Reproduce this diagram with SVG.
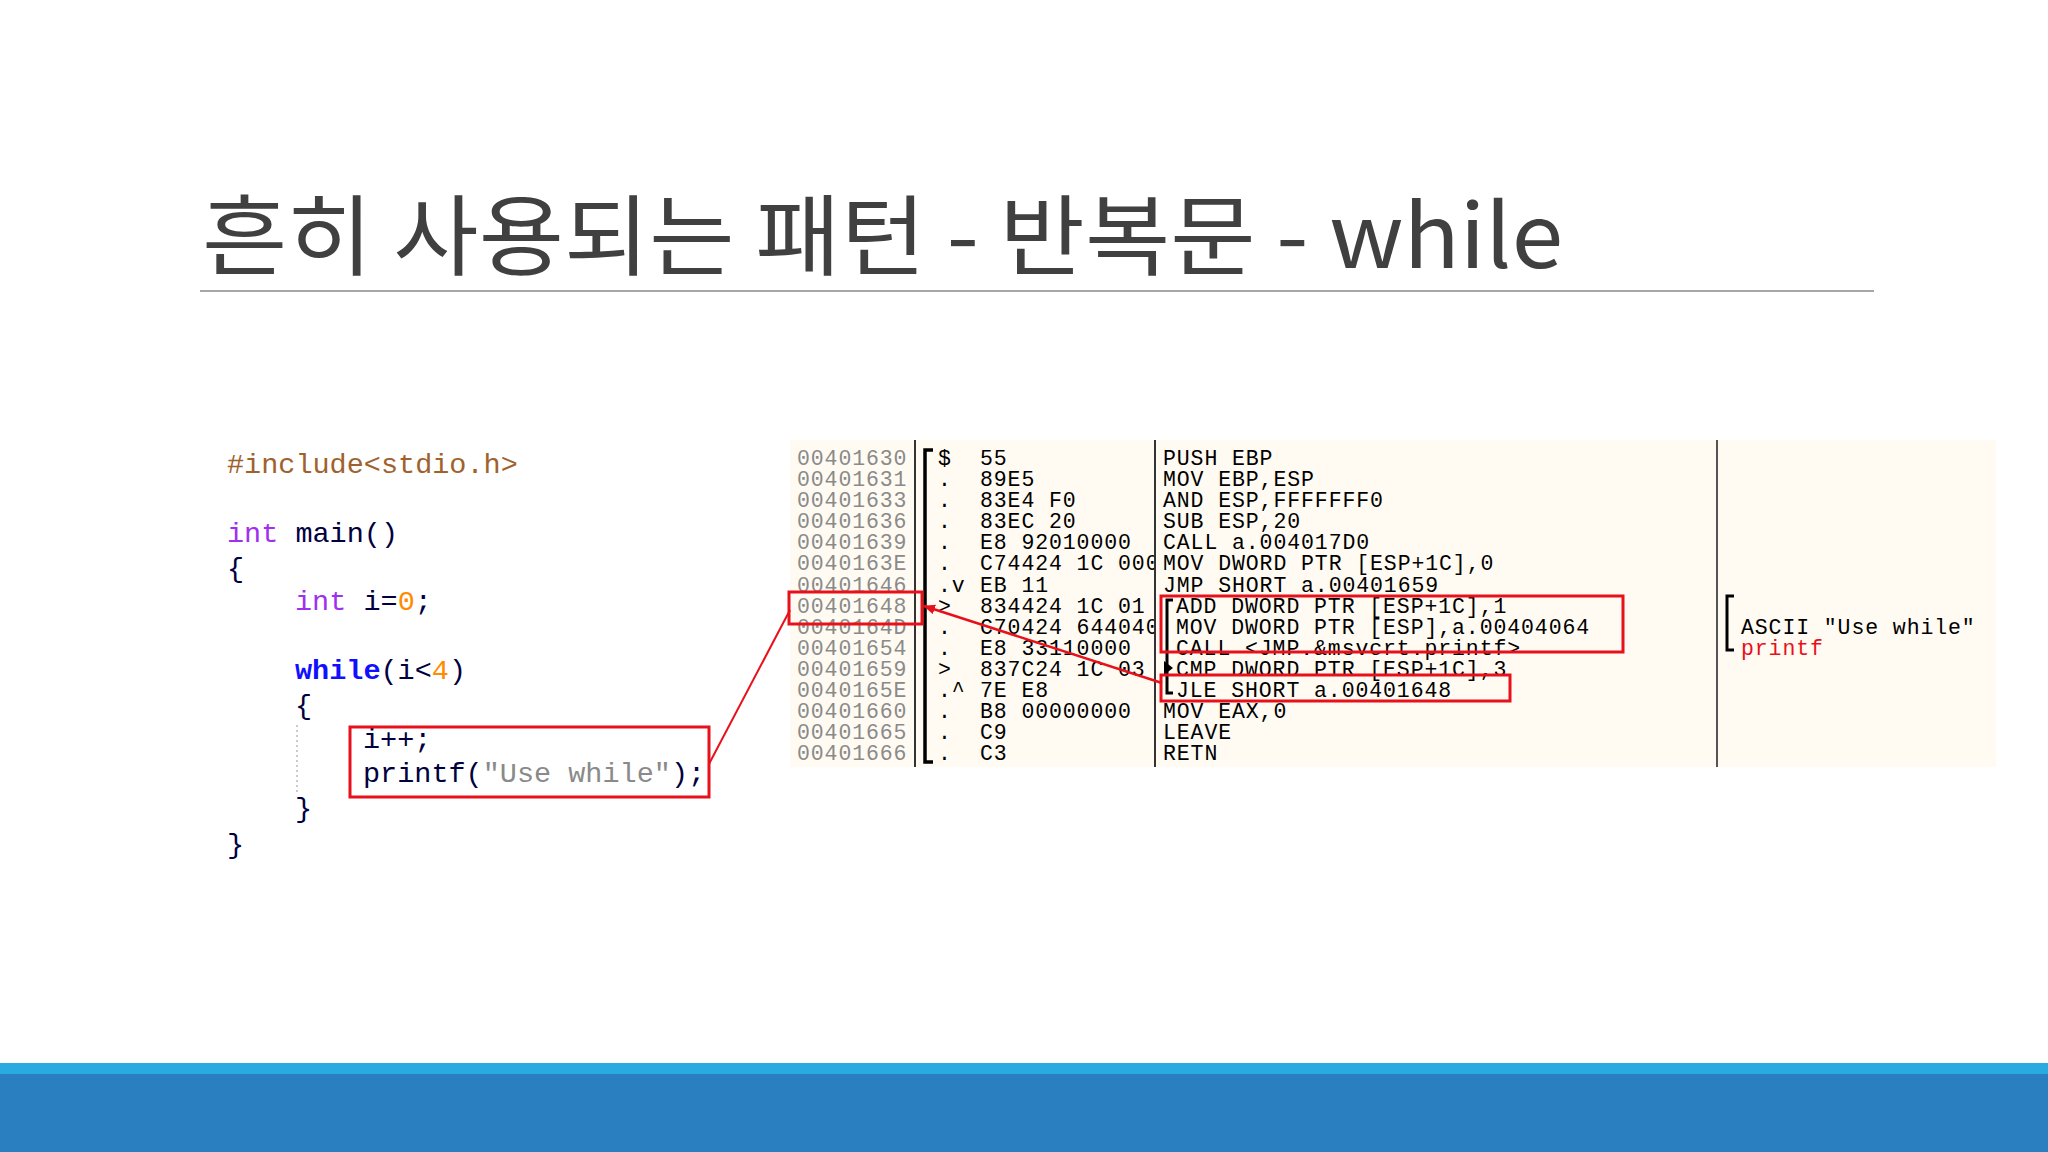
<svg xmlns="http://www.w3.org/2000/svg" width="2048" height="1152" viewBox="0 0 2048 1152">
<defs>
<style>
.c{font-family:"Liberation Mono","DejaVu Sans Mono",monospace;font-size:28.5px;fill:#000040}
.a{font-family:"Liberation Mono","DejaVu Sans Mono",monospace;font-size:21.5px;letter-spacing:0.9px;fill:#000}
.g{fill:#8a8a8a}
.rb{fill:none;stroke:#e8101a;stroke-width:3}
</style>
<marker id="ah" markerWidth="12" markerHeight="10" refX="11" refY="5" orient="auto" markerUnits="userSpaceOnUse"><path d="M0,0 L12,5 L0,10 Z" fill="#e8101a"/></marker>
<clipPath id="hexclip"><rect x="970" y="440" width="184" height="330"/></clipPath>
</defs>
<rect width="2048" height="1152" fill="#fff"/>
<g id="title">
<text x="202" y="268" font-family="'Noto Sans CJK KR','Noto Sans',sans-serif" font-size="88" fill="#404040" textLength="1361" lengthAdjust="spacingAndGlyphs">흔히 사용되는 패턴 - 반복문 - while</text>
<line x1="200" y1="291" x2="1874" y2="291" stroke="#a6a6a6" stroke-width="2"/>
</g>
<g id="footer">
<rect x="0" y="1063" width="2048" height="11" fill="#29abe2"/>
<rect x="0" y="1074" width="2048" height="78" fill="#2a7fc1"/>
</g>
<g id="code">
<text class="c" x="227" y="473" style="fill:#a0622d">#include&lt;stdio.h&gt;</text>
<text class="c" x="227" y="542"><tspan style="fill:#a030f0">int</tspan> main()</text>
<text class="c" x="227" y="577">{</text>
<text class="c" x="295" y="610"><tspan style="fill:#a030f0">int</tspan> i=<tspan style="fill:#ff8c00">0</tspan>;</text>
<text class="c" x="295" y="679"><tspan style="fill:#1010ff;font-weight:bold">while</tspan>(i&lt;<tspan style="fill:#ff8c00">4</tspan>)</text>
<text class="c" x="295" y="714">{</text>
<line x1="297" y1="725" x2="297" y2="795" stroke="#bbb" stroke-width="1.5" stroke-dasharray="2,3"/>
<text class="c" x="363" y="748">i++;</text>
<text class="c" x="363" y="782">printf(<tspan style="fill:#8a8a8a">"Use while"</tspan>);</text>
<text class="c" x="295" y="817">}</text>
<text class="c" x="227" y="853">}</text>
<rect class="rb" x="350" y="727" width="359" height="70"/>
</g>
<g id="asm">
<rect x="790" y="440" width="1206" height="327" fill="#fffbf2"/>
<line x1="915" y1="440" x2="915" y2="767" stroke="#333" stroke-width="2"/>
<line x1="1155" y1="440" x2="1155" y2="767" stroke="#333" stroke-width="2"/>
<line x1="1717" y1="440" x2="1717" y2="767" stroke="#555" stroke-width="2"/>
<g>
<text class="a g" x="797" y="465">00401630</text>
<text class="a g" x="797" y="486">00401631</text>
<text class="a g" x="797" y="507">00401633</text>
<text class="a g" x="797" y="528">00401636</text>
<text class="a g" x="797" y="549">00401639</text>
<text class="a g" x="797" y="570">0040163E</text>
<text class="a g" x="797" y="592">00401646</text>
<text class="a g" x="797" y="613">00401648</text>
<text class="a g" x="797" y="634">0040164D</text>
<text class="a g" x="797" y="655">00401654</text>
<text class="a g" x="797" y="676">00401659</text>
<text class="a g" x="797" y="697">0040165E</text>
<text class="a g" x="797" y="718">00401660</text>
<text class="a g" x="797" y="739">00401665</text>
<text class="a g" x="797" y="760">00401666</text>
</g>
<path d="M933,450 L925,450 L925,762 L933,762" fill="none" stroke="#000" stroke-width="3.5"/>
<g>
<text class="a" x="938" y="465">$</text>
<text class="a" x="938" y="486">.</text>
<text class="a" x="938" y="507">.</text>
<text class="a" x="938" y="528">.</text>
<text class="a" x="938" y="549">.</text>
<text class="a" x="938" y="570">.</text>
<text class="a" x="938" y="592">.v</text>
<text class="a" x="938" y="613">&gt;</text>
<text class="a" x="938" y="634">.</text>
<text class="a" x="938" y="655">.</text>
<text class="a" x="938" y="676">&gt;</text>
<text class="a" x="938" y="697">.^</text>
<text class="a" x="938" y="718">.</text>
<text class="a" x="938" y="739">.</text>
<text class="a" x="938" y="760">.</text>
</g>
<g clip-path="url(#hexclip)">
<text class="a" x="980" y="465">55</text>
<text class="a" x="980" y="486">89E5</text>
<text class="a" x="980" y="507">83E4 F0</text>
<text class="a" x="980" y="528">83EC 20</text>
<text class="a" x="980" y="549">E8 92010000</text>
<text class="a" x="980" y="570">C74424 1C 00000000</text>
<text class="a" x="980" y="592">EB 11</text>
<text class="a" x="980" y="613">834424 1C 01</text>
<text class="a" x="980" y="634">C70424 64404000</text>
<text class="a" x="980" y="655">E8 33110000</text>
<text class="a" x="980" y="676">837C24 1C 03</text>
<text class="a" x="980" y="697">7E E8</text>
<text class="a" x="980" y="718">B8 00000000</text>
<text class="a" x="980" y="739">C9</text>
<text class="a" x="980" y="760">C3</text>
</g>
<g>
<text class="a" x="1163" y="465">PUSH EBP</text>
<text class="a" x="1163" y="486">MOV EBP,ESP</text>
<text class="a" x="1163" y="507">AND ESP,FFFFFFF0</text>
<text class="a" x="1163" y="528">SUB ESP,20</text>
<text class="a" x="1163" y="549">CALL a.004017D0</text>
<text class="a" x="1163" y="570">MOV DWORD PTR [ESP+1C],0</text>
<text class="a" x="1163" y="592">JMP SHORT a.00401659</text>
<text class="a" x="1176" y="613">ADD DWORD PTR [ESP+1C],1</text>
<text class="a" x="1176" y="634">MOV DWORD PTR [ESP],a.00404064</text>
<text class="a" x="1176" y="655">CALL &lt;JMP.&amp;msvcrt.printf&gt;</text>
<text class="a" x="1176" y="676">CMP DWORD PTR [ESP+1C],3</text>
<text class="a" x="1176" y="697">JLE SHORT a.00401648</text>
<text class="a" x="1163" y="718">MOV EAX,0</text>
<text class="a" x="1163" y="739">LEAVE</text>
<text class="a" x="1163" y="760">RETN</text>
</g>
<path d="M1173,600 L1167,600 L1167,693 L1173,693" fill="none" stroke="#000" stroke-width="3"/>
<path d="M1164,661 L1173,668 L1164,675 Z" fill="#000"/>
<path d="M1734,596 L1727,596 L1727,650 L1734,650" fill="none" stroke="#000" stroke-width="3"/>
<text class="a" x="1741" y="634">ASCII "Use while"</text>
<text class="a" x="1741" y="655" style="fill:#e8101a">printf</text>
</g>
<g id="connectors">
<rect class="rb" x="789" y="592" width="133" height="32"/>
<rect class="rb" x="1161" y="596" width="462" height="56"/>
<rect class="rb" x="1161" y="675" width="349" height="26"/>
<line x1="709" y1="764" x2="790" y2="610" stroke="#e8101a" stroke-width="2"/>
<line x1="1162" y1="683" x2="924" y2="606" stroke="#e8101a" stroke-width="2.5" marker-end="url(#ah)"/>
</g>
</svg>
